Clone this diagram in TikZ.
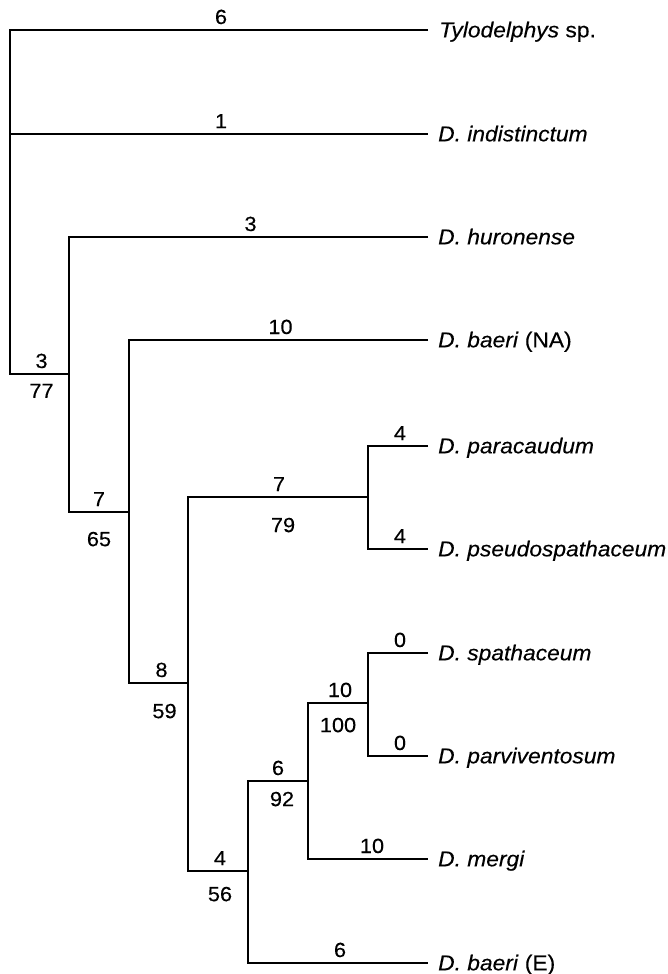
\documentclass[tikz,border=0pt]{standalone}
\usepackage{fontspec}
\setmainfont{Liberation Sans}[FakeStretch=1.06, FakeBold=0.3]
\newcommand{\numfont}{\fontsize{20.5}{24}\selectfont}
\newcommand{\leaffont}{\fontsize{21.5}{25}\selectfont}
\tikzset{
  branch/.style={line width=1.6pt, line join=miter, line cap=butt},
  lab/.style={font=\numfont, inner sep=0pt},
  up/.style={lab, above=5pt},
  leaf/.style={font=\leaffont, inner sep=0pt, anchor=base west}
}
\begin{document}
\begin{tikzpicture}[x=1pt,y=-1pt]
\useasboundingbox (0,0) rectangle (667,974);
% tips
\coordinate (t1) at (428,30);
\coordinate (t2) at (428,134);
\coordinate (t3) at (428,237);
\coordinate (t4) at (428,340);
\coordinate (t5) at (428,446);
\coordinate (t6) at (428,549);
\coordinate (t7) at (428,653);
\coordinate (t8) at (428,756);
\coordinate (t9) at (428,859);
\coordinate (t10) at (428,963);
% internal nodes
\coordinate (root) at (10,134);
\coordinate (n1) at (69,374);
\coordinate (n2) at (129,512);
\coordinate (n3) at (188,683);
\coordinate (n4) at (368,497);
\coordinate (n5) at (248,871);
\coordinate (n6) at (308,781);
\coordinate (n7) at (368,703);
% branches
\draw[branch] (t1) -| node[pos=.25, up, xshift=2pt] {6} (root)
   |- node[pos=.75, up, xshift=2pt] {3} node[pos=.75, lab, below=9pt, xshift=2pt] {77} (n1);
\draw[branch] (root) -- node[pos=.5, up, xshift=2pt] {1} (t2);
\draw[branch] (t3) -| node[pos=.25, up, xshift=2pt] {3} (n1)
   |- node[pos=.75, up] {7} node[pos=.75, lab, below=19pt] {65} (n2);
\draw[branch] (t4) -| node[pos=.25, up, xshift=2pt] {10} (n2)
   |- node[pos=.75, up, xshift=3pt] {8} node[pos=.75, lab, below=20pt, xshift=6pt] {59} (n3);
\draw[branch] (n4) -| node[pos=.25, up, xshift=1pt] {7} node[pos=.25, lab, below=20pt, xshift=5pt] {79} (n3)
   |- node[pos=.75, up, xshift=2pt] {4} node[pos=.75, lab, below=15pt, xshift=2pt] {56} (n5);
\draw[branch] (t5) -| node[pos=.25, up, xshift=2pt] {4} (n4)
   |- node[pos=.75, up, xshift=2pt] {4} (t6);
\draw[branch] (n6) -| node[pos=.25, up] {6} node[pos=.25, lab, below=10pt, xshift=4pt] {92} (n5)
   |- node[pos=.75, up, xshift=2pt] {6} (t10);
\draw[branch] (n7) -| node[pos=.25, up, xshift=2pt] {10} node[pos=.25, lab, below=14pt] {100} (n6)
   |- node[pos=.75, up, xshift=4pt] {10} (t9);
\draw[branch] (t7) -| node[pos=.25, up, xshift=2pt] {0} (n7)
   |- node[pos=.75, up, xshift=2pt] {0} (t8);
% leaf labels
\path (t1) ++(11,7.3) node[leaf] (L1) {\textit{Tylodelphys} sp.};
\path (t2) ++(10,7.3) node[leaf] (L2) {\textit{D. indistinctum}};
\path (t3) ++(10,7.3) node[leaf] (L3) {\textit{D. huronense}};
\path (t4) ++(10,7.3) node[leaf] (L4) {\textit{D. baeri} (NA)};
\path (t5) ++(10,7.3) node[leaf] (L5) {\textit{D. paracaudum}};
\path (t6) ++(10,7.3) node[leaf] (L6) {\textit{D. pseudospathaceum}};
\path (t7) ++(10,7.3) node[leaf] (L7) {\textit{D. spathaceum}};
\path (t8) ++(10,7.3) node[leaf] (L8) {\textit{D. parviventosum}};
\path (t9) ++(10,7.3) node[leaf] (L9) {\textit{D. mergi}};
\path (t10) ++(10,7.3) node[leaf] (L10) {\textit{D. baeri} (E)};
\end{tikzpicture}
\end{document}
